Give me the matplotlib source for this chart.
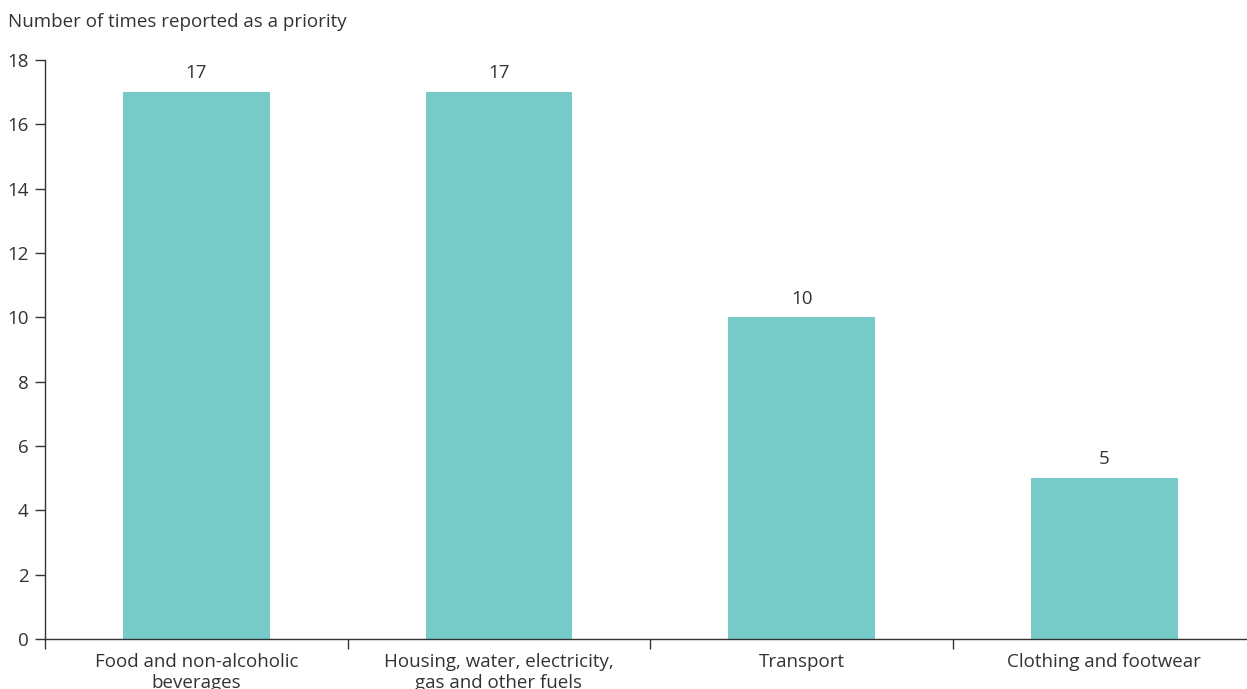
import matplotlib.pyplot as plt
import numpy as np

plt.rcParams['font.family'] = ['Open Sans', 'DejaVu Sans']

categories = ['Food and non-alcoholic\nbeverages',
              'Housing, water, electricity,\ngas and other fuels',
              'Transport',
              'Clothing and footwear']
counts = [17, 17, 10, 5]

BAR_COLOR = '#76CBC9'
TEXT_COLOR = '#333333'
FS = 13.5

fig = plt.figure(figsize=(12.47, 6.89), dpi=100, facecolor='white')
# axes runs slightly past the right edge, like the original
ax = fig.add_axes([45 / 1247, 1 - 639 / 689, 1210.5 / 1247, 579 / 689])

x = np.arange(len(categories))
ax.bar(x, counts, width=0.485, color=BAR_COLOR, zorder=2)

for xi, v in zip(x, counts):
    ax.annotate(f'{v}', (xi, v), xytext=(0, 7), textcoords='offset points',
                ha='center', va='bottom', fontsize=FS, color=TEXT_COLOR)

ax.set_xlim(-0.5, len(categories) - 0.5)
ax.set_ylim(0, 18)
ax.set_yticks(np.arange(0, 19, 2))

# category labels at centres, separator ticks between categories
ax.set_xticks(x)
ax.set_xticklabels(categories, fontsize=FS, color=TEXT_COLOR, linespacing=1.2)
ax.set_xticks(np.arange(-0.5, len(categories), 1), minor=True)
ax.tick_params(axis='x', which='major', length=0, pad=10)
ax.tick_params(axis='x', which='minor', length=7, width=1, color=TEXT_COLOR)
ax.tick_params(axis='y', length=7, width=1, color=TEXT_COLOR,
               labelsize=FS, labelcolor=TEXT_COLOR, pad=5)

for side in ['top', 'right']:
    ax.spines[side].set_visible(False)
for side in ['left', 'bottom']:
    ax.spines[side].set_color(TEXT_COLOR)
    ax.spines[side].set_linewidth(1)

fig.text(8 / 1247, 1 - 22 / 689, 'Number of times reported as a priority',
         ha='left', va='center', fontsize=FS, color=TEXT_COLOR)

fig.savefig('out.png', dpi=100, facecolor='white')
